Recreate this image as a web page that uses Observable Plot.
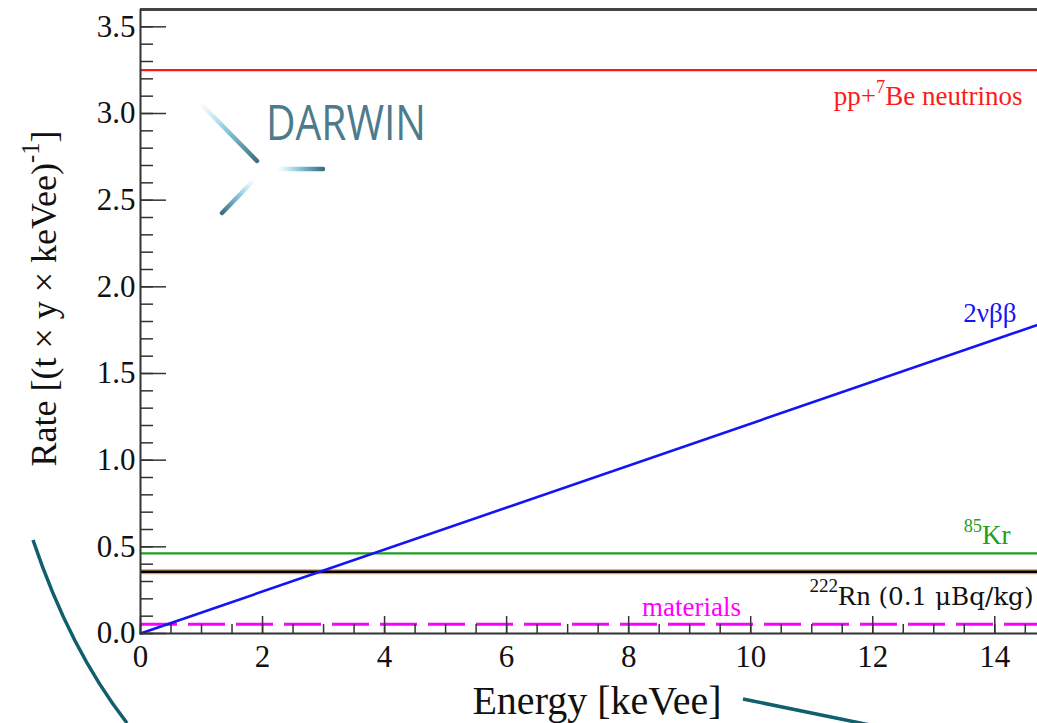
<!DOCTYPE html>
<html><head><meta charset="utf-8">
<script src="https://cdn.jsdelivr.net/npm/d3@7"></script>
<script src="https://cdn.jsdelivr.net/npm/@observablehq/plot@0.6"></script>
<style>
html,body{margin:0;padding:0;background:#fff;}
#wrap{position:relative;width:1037px;height:723px;overflow:hidden;background:#fff;}
#deco{position:absolute;left:0;top:0;pointer-events:none;}
</style></head><body>
<div id="wrap"></div>
<script>
// ---- data ----
const energyDomain = [0, 14.7];
const rateDomain = [0, 3.6];
const ppBe7Rate = 3.25;      // pp+7Be neutrinos
const kr85Rate = 0.462;      // 85Kr
const rn222Rate = 0.356;     // 222Rn (0.1 uBq/kg)
const materialsRate = 0.053; // materials
const nubbEnergy = [0, 14.7];
const nubbRate = [0, 1.78];  // 2vbb
const xMajorTicks = [0, 2, 4, 6, 8, 10, 12, 14];
const xTickLabels = ["0", "2", "4", "6", "8", "10", "12", "14"];
const yMajorTicks = [0, 0.5, 1.0, 1.5, 2.0, 2.5, 3.0, 3.5];
const yTickLabels = ["0.0", "0.5", "1.0", "1.5", "2.0", "2.5", "3.0", "3.5"];
const seriesLabels = ["pp+^{7}Be neutrinos", "2νββ", "^{85}Kr", "^{222}Rn~{ (0.1 μBq/kg)}", "materials"];
const materialsLabelEnergy = 9.03;
const xTitle = "Energy [keVee]";
const yTitle = "Rate [(t × y × keVee)^{-1}]";

const xMinorTicks = d3.range(0, 14.75, 0.5);
const yMinorTicks = d3.range(0, 36).map(i => i / 10);

const serif = "'Liberation Serif','Times New Roman',Times,serif";
const axisCol = "#333";
const nubb = nubbEnergy.map((e, i) => ({e, r: nubbRate[i]}));

const plot = Plot.plot({
  width: 1037, height: 723,
  marginLeft: 140, marginRight: 0, marginTop: 9, marginBottom: 90,
  style: {fontFamily: serif, background: "#fff", color: "#111"},
  x: {domain: energyDomain},
  y: {domain: rateDomain},
  marks: [
    // series
    Plot.ruleY([ppBe7Rate], {stroke: "#ff1a1a", strokeWidth: 2.2}),
    Plot.ruleY([kr85Rate], {stroke: "#1f9e1f", strokeWidth: 2.2}),
    Plot.ruleY([rn222Rate], {stroke: "#e3a24a", strokeWidth: 5}),
    Plot.ruleY([rn222Rate], {stroke: "#000", strokeWidth: 2.6}),
    Plot.ruleY([materialsRate], {stroke: "#ff00ff", strokeWidth: 3, strokeDasharray: "37,11"}),
    Plot.line(nubb, {x: "e", y: "r", stroke: "#1414f5", strokeWidth: 2.6}),
    // frame lines
    Plot.ruleY([rateDomain[1]], {stroke: "#444", strokeWidth: 3}),
    Plot.ruleX([0], {stroke: axisCol, strokeWidth: 2}),
    Plot.ruleY([0], {stroke: axisCol, strokeWidth: 2}),
    // ticks
    Plot.axisX({ticks: xMinorTicks, tickSize: -9, text: null, label: null, stroke: axisCol, strokeWidth: 1.5}),
    Plot.axisX({ticks: xMajorTicks, tickSize: -17, text: null, label: null, stroke: axisCol, strokeWidth: 1.5}),
    Plot.axisX({ticks: xMajorTicks, tickSize: 0, tickPadding: 11, label: null, fontSize: 31, fontFamily: serif,
      tickFormat: d => xTickLabels[xMajorTicks.indexOf(d)]}),
    Plot.axisY({ticks: yMinorTicks, tickSize: -13, text: null, label: null, stroke: axisCol, strokeWidth: 1.5}),
    Plot.axisY({ticks: yMajorTicks, tickSize: -26, text: null, label: null, stroke: axisCol, strokeWidth: 1.5}),
    Plot.axisY({ticks: yMajorTicks, tickSize: 0, tickPadding: 5, label: null, fontSize: 31, fontFamily: serif,
      tickFormat: d => yTickLabels[yMajorTicks.indexOf(d)]}),
    // axis titles
    Plot.text([xTitle], {frameAnchor: "bottom", textAnchor: "middle", lineAnchor: "bottom", dx: 8, dy: 80, fontSize: 40, fontFamily: serif, fill: "#111"}),
    Plot.text([yTitle], {frameAnchor: "left", textAnchor: "middle", lineAnchor: "bottom", rotate: -90, dx: -85, dy: -23, fontSize: 36, fontFamily: serif, fill: "#111"}),
    // series labels
    Plot.text([seriesLabels[0]], {x: energyDomain[1], y: ppBe7Rate, textAnchor: "end", lineAnchor: "bottom", dx: -15, dy: 35, fontSize: 27, fontFamily: serif, fill: "#ff1a1a"}),
    Plot.text([seriesLabels[1]], {x: energyDomain[1], y: nubbRate[1], textAnchor: "end", lineAnchor: "bottom", dx: -21, dy: -3, fontSize: 27, fontFamily: serif, fill: "#1414f5"}),
    Plot.text([seriesLabels[2]], {x: energyDomain[1], y: kr85Rate, textAnchor: "end", lineAnchor: "bottom", dx: -27, dy: -9, fontSize: 27, fontFamily: serif, fill: "#1f9e1f"}),
    Plot.text([seriesLabels[3]], {x: energyDomain[1], y: rn222Rate, textAnchor: "end", lineAnchor: "bottom", dx: -4, dy: 33, fontSize: 28, fontFamily: serif, fill: "#111"}),
    Plot.text([seriesLabels[4]], {x: materialsLabelEnergy, y: materialsRate, textAnchor: "middle", lineAnchor: "bottom", dy: -8, fontSize: 27, fontFamily: serif, fill: "#ff00ff"})
  ]
});
const wrap = document.getElementById("wrap");
wrap.appendChild(plot);

// rich text: ^{..} superscript, ~{..} alternate font
const NS = "http://www.w3.org/2000/svg";
plot.querySelectorAll("text").forEach(el => {
  const s = el.textContent;
  if (!/[\^~]\{/.test(s)) return;
  const fs = parseFloat(getComputedStyle(el).fontSize) || 27;
  while (el.firstChild) el.removeChild(el.firstChild);
  const re = /([\^~])\{([^}]*)\}|([^\^~]+)/g;
  let m, shift = 0;
  while ((m = re.exec(s))) {
    const t = document.createElementNS(NS, "tspan");
    if (m[1] === "^") {
      t.textContent = m[2];
      t.setAttribute("font-size", (fs * 0.68) + "px");
      t.setAttribute("dy", (-0.45 * fs - shift) + "");
      shift = -0.45 * fs;
    } else {
      t.textContent = m[1] === "~" ? m[2] : m[3];
      if (shift) t.setAttribute("dy", (-shift) + "");
      shift = 0;
      if (m[1] === "~") {
        t.setAttribute("font-family", "'DejaVu Serif', serif");
        t.setAttribute("font-size", (fs * 0.88) + "px");
      }
    }
    el.appendChild(t);
  }
});

// decorative slide elements (logo and swooshes)
const deco = document.createElementNS(NS, "svg");
deco.setAttribute("id", "deco");
deco.setAttribute("width", 1037);
deco.setAttribute("height", 723);
deco.innerHTML = `
<defs>
 <linearGradient id="g1" gradientUnits="userSpaceOnUse" x1="200" y1="103" x2="257" y2="161">
  <stop offset="0" stop-color="#a8dcee" stop-opacity="0"/><stop offset="0.45" stop-color="#8ccbe2"/><stop offset="1" stop-color="#3c6f82"/></linearGradient>
 <linearGradient id="g2" gradientUnits="userSpaceOnUse" x1="277" y1="169" x2="323" y2="169">
  <stop offset="0" stop-color="#a8dcee" stop-opacity="0"/><stop offset="0.45" stop-color="#8ccbe2"/><stop offset="1" stop-color="#3c6f82"/></linearGradient>
 <linearGradient id="g3" gradientUnits="userSpaceOnUse" x1="254" y1="180" x2="222" y2="213">
  <stop offset="0" stop-color="#a8dcee" stop-opacity="0"/><stop offset="0.45" stop-color="#8ccbe2"/><stop offset="1" stop-color="#3c6f82"/></linearGradient>
</defs>
<line x1="200" y1="103" x2="257" y2="161" stroke="url(#g1)" stroke-width="4.5" stroke-linecap="round"/>
<line x1="277" y1="169" x2="323" y2="169" stroke="url(#g2)" stroke-width="4.5" stroke-linecap="round"/>
<line x1="254" y1="180" x2="222" y2="213" stroke="url(#g3)" stroke-width="4.5" stroke-linecap="round"/>
<text x="266" y="140" fill="#4d7b8c" font-family="'Open Sans', sans-serif" font-size="49" textLength="160" lengthAdjust="spacingAndGlyphs">DARWIN</text>
<path d="M33,540 Q70,650 127,723" fill="none" stroke="#0f5f6d" stroke-width="3.5"/>
<path d="M743,699 L870,725" fill="none" stroke="#0f5f6d" stroke-width="3.5"/>
`;
wrap.appendChild(deco);
</script>
</body></html>
